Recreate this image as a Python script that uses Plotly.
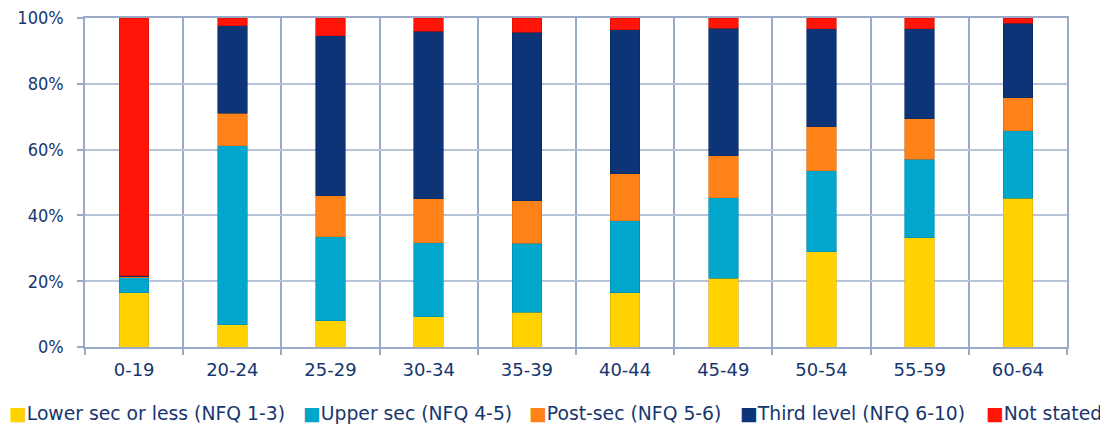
import plotly.graph_objects as go

categories = ["0-19", "20-24", "25-29", "30-34", "35-39", "40-44", "45-49", "50-54", "55-59", "60-64"]
series_names = ["Lower sec or less (NFQ 1-3)", "Upper sec (NFQ 4-5)", "Post-sec (NFQ 5-6)",
                "Third level (NFQ 6-10)", "Not stated"]
lower_sec = [16.5, 6.7, 8.0, 9.2, 10.6, 16.5, 20.9, 29.0, 33.2, 45.2]
upper_sec = [4.6, 54.4, 25.5, 22.5, 20.9, 21.9, 24.5, 24.5, 23.9, 20.5]
post_sec = [0.3, 9.9, 12.5, 13.3, 13.0, 14.2, 12.7, 13.5, 12.3, 10.1]
third_level = [0.2, 26.7, 48.6, 51.0, 51.1, 43.8, 38.8, 29.7, 27.3, 22.6]
not_stated = [78.4, 2.3, 5.4, 4.0, 4.4, 3.6, 3.1, 3.3, 3.3, 1.6]
y_ticks = [0, 20, 40, 60, 80, 100]
y_tick_labels = ["0%", "20%", "40%", "60%", "80%", "100%"]

series = [lower_sec, upper_sec, post_sec, third_level, not_stated]
colors = ["#FFD200", "#00A6CC", "#FF8218", "#0C3477", "#FF1408"]
edges = ["#D9AE00", "#0089AA", "#D96A10", "#082A60", "#D00E00"]

TEXT = "#17366E"
GRID = "#9AAAC6"

fig = go.Figure()
for name, vals, c, e in zip(series_names, series, colors, edges):
    fig.add_trace(go.Bar(
        x=categories, y=vals, name=name,
        marker=dict(color=c, line=dict(color=e, width=0.6)),
        width=0.3, showlegend=False,
    ))

# page body has an 8px margin, so the figure is offset by 8px
OFF = 8
W, H = 1108 - OFF, 424 - OFF
L, R, T, B = 85 - OFF, 41, 18 - OFF, 77
pw, ph = W - L - R, H - T - B

def px(x):
    return (x - OFF - L) / pw

def py(y):
    return (H - B - (y - OFF)) / ph

legend_x = [7, 301, 527, 738, 984]
for name, c, lx in zip(series_names, colors, legend_x):
    fig.add_annotation(
        x=px(lx), y=py(413), xref="paper", yref="paper",
        xanchor="left", yanchor="middle", showarrow=False,
        text=f'<span style="color:{c}">■</span>{name}',
        font=dict(family="DejaVu Sans", size=18.8, color=TEXT),
    )

fig.update_layout(
    barmode="stack",
    width=W, height=H,
    margin=dict(l=L, r=R, t=T, b=B, pad=0),
    paper_bgcolor="white", plot_bgcolor="white",
    xaxis=dict(
        type="category", tickson="boundaries", automargin=False,
        showgrid=True, gridcolor=GRID, gridwidth=1.5,
        showline=True, linecolor=GRID, linewidth=1.5, mirror=True,
        ticks="outside", ticklen=6, tickcolor=GRID, tickwidth=1.5,
        tickfont=dict(family="DejaVu Sans", size=18, color=TEXT),
        ticklabelstandoff=6,
        range=[-0.5, 9.5],
    ),
    yaxis=dict(
        range=[0, 100], tickmode="array", tickvals=y_ticks, ticktext=y_tick_labels,
        automargin=False, ticklabeloverflow="allow",
        showgrid=True, gridcolor="#B7C3D9", gridwidth=1.5,
        showline=True, linecolor=GRID, linewidth=1.5, mirror=True,
        ticks="outside", ticklen=6, tickcolor=GRID, tickwidth=1.5,
        tickfont=dict(family="DejaVu Sans Condensed", size=18, color=TEXT),
        ticklabelstandoff=10, zeroline=False,
    ),
)

fig.write_html("out.html")
